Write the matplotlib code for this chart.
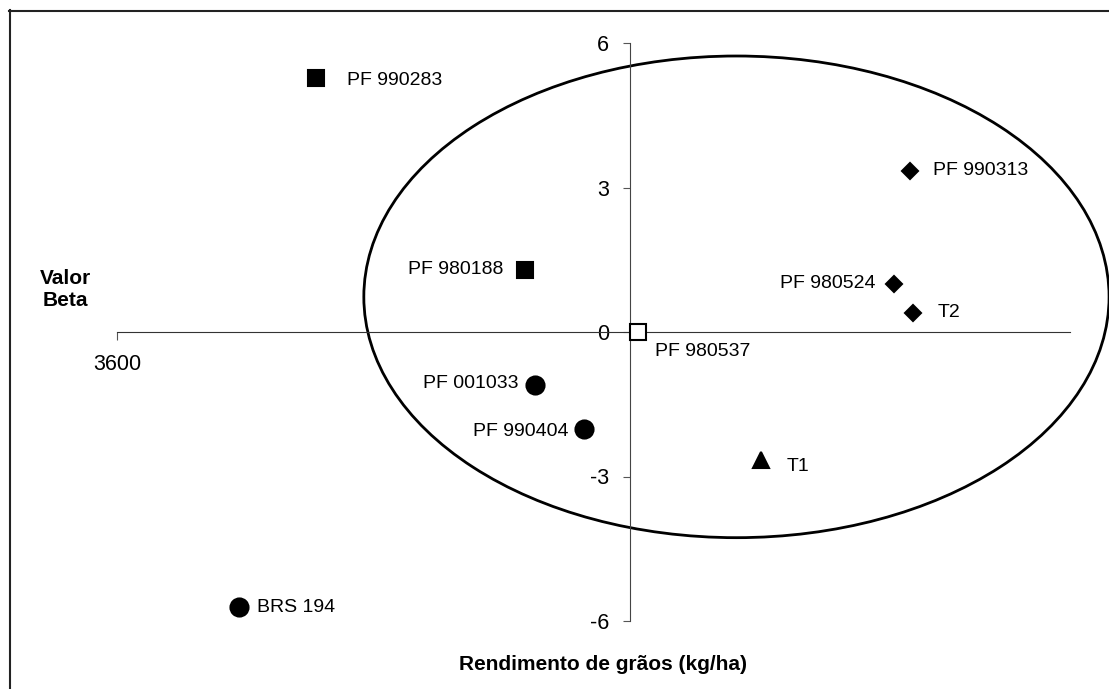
import matplotlib.pyplot as plt
from matplotlib.patches import Ellipse
from matplotlib.lines import Line2D

plt.rcParams['font.family'] = ['Liberation Sans', 'DejaVu Sans']

# genotypes: grain yield (kg/ha) and beta value
genotypes = ['PF 990283', 'PF 980188', 'PF 980537', 'PF 001033', 'PF 990404',
             'BRS 194', 'T1', 'PF 990313', 'PF 980524', 'T2']
rendimento = [3809, 4028, 4147, 4039, 4090, 3728, 4276, 4432, 4415, 4435]
beta = [5.27, 1.29, 0.0, -1.10, -2.02, -5.71, -2.65, 3.35, 1.00, 0.40]

x_min, x_max = 3600, 4600
x_cross = 4138
y_ticks = [-6, -3, 0, 3, 6]

# marker style per genotype
styles = {
    'PF 990283': dict(marker='s', mfc='black', ms=11),
    'PF 980188': dict(marker='s', mfc='black', ms=11),
    'PF 980537': dict(marker='s', mfc='white', ms=11),
    'PF 001033': dict(marker='o', mfc='black', ms=13),
    'PF 990404': dict(marker='o', mfc='black', ms=13),
    'BRS 194': dict(marker='o', mfc='black', ms=13),
    'T1': dict(marker='^', mfc='black', ms=12),
    'PF 990313': dict(marker='D', mfc='black', ms=8),
    'PF 980524': dict(marker='D', mfc='black', ms=8),
    'T2': dict(marker='D', mfc='black', ms=8),
}
# label offsets in pixels (dx, dy, ha)
offsets = {
    'PF 990283': (31, -2, 'left'),
    'PF 980188': (-22, 0, 'right'),
    'PF 980537': (17, -19, 'left'),
    'PF 001033': (-17, 1, 'right'),
    'PF 990404': (-15, -2, 'right'),
    'BRS 194': (18, 0, 'left'),
    'T1': (25, -7, 'left'),
    'PF 990313': (23, 0, 'left'),
    'PF 980524': (-18, 0, 'right'),
    'T2': (25, 0, 'left'),
}

W, H = 1109, 689
fig = plt.figure(figsize=(W / 100, H / 100), dpi=100)
ax = fig.add_axes([117 / W, 1 - 621 / H, (1070 - 117) / W, (621 - 43) / H])
ax.set_xlim(x_min, x_max)
ax.set_ylim(-6, 6)

for s in ['top', 'right']:
    ax.spines[s].set_visible(False)
ax.spines['left'].set_position(('data', x_cross))
ax.spines['bottom'].set_position(('data', 0))
ax.spines['left'].set_color('#444444')
ax.spines['bottom'].set_color('#333333')
ax.set_yticks(y_ticks)
ax.set_yticklabels([str(t) for t in y_ticks], fontsize=15.5)
ax.set_xticks([x_min])
ax.set_xticklabels(['3600'], fontsize=15.5)
ax.tick_params(axis='y', length=5, color='#555555', pad=10)
ax.tick_params(axis='x', length=6, color='#555555', pad=10)

ell = Ellipse((4250, 0.73), width=782, height=10.0, fill=False,
              edgecolor='black', linewidth=2, clip_on=False, zorder=2)
ax.add_patch(ell)

for name, xv, yv in zip(genotypes, rendimento, beta):
    st = styles[name]
    ax.plot(xv, yv, linestyle='none', marker=st['marker'], ms=st['ms'],
            mfc=st['mfc'], mec='black', mew=1.5, clip_on=False, zorder=3)
    dx, dy, ha = offsets[name]
    ax.annotate(name, (xv, yv), xytext=(dx, dy), textcoords='offset pixels',
                ha=ha, va='center', fontsize=14)

fig.text(65 / W, 1 - 290 / H, 'Valor\nBeta', ha='center', va='center',
         fontsize=15, fontweight='bold', linespacing=1.2)
fig.text(603 / W, 1 - 664 / H, 'Rendimento de grãos (kg/ha)', ha='center',
         va='center', fontsize=15, fontweight='bold')

# chart border (left and top visible)
fig.add_artist(Line2D([9.5 / W, 9.5 / W], [0, 1 - 10 / H], color='#222222', lw=1.5))
fig.add_artist(Line2D([9 / W, 1], [1 - 10.5 / H, 1 - 10.5 / H], color='#222222', lw=1.5))

fig.savefig('out.png', dpi=100)
